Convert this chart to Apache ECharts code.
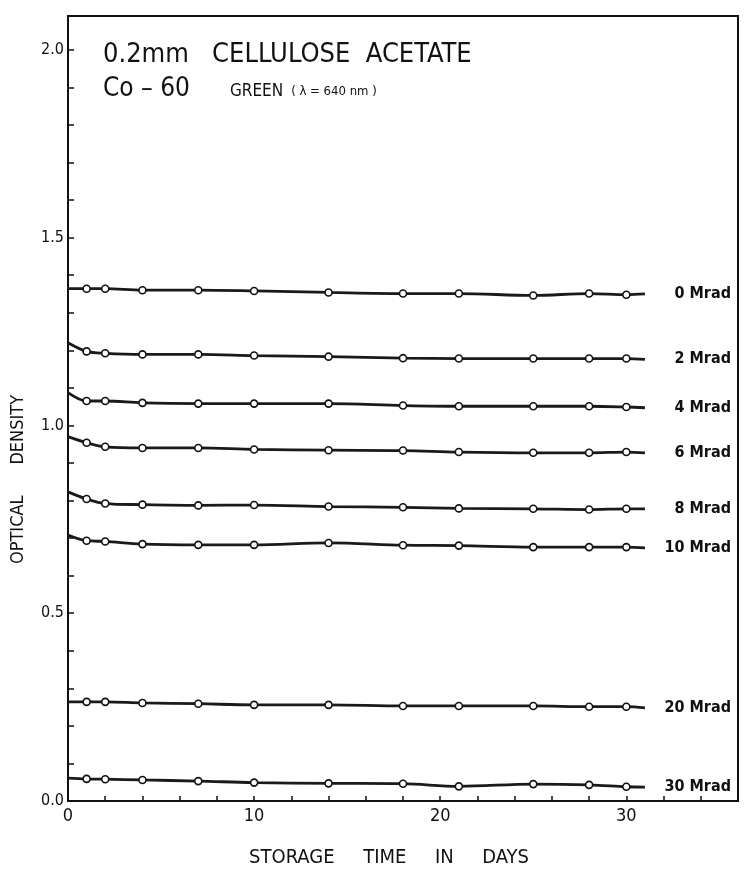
<!DOCTYPE html>
<html>
<head>
<meta charset="utf-8">
<script src="https://cdn.jsdelivr.net/npm/echarts@6/dist/echarts.min.js"></script>
<style>
  html, body { margin: 0; padding: 0; background: #fff; }
  #chart { width: 746px; height: 873px; }
</style>
</head>
<body>
<div id="chart"></div>
<script>
// Storage days: first entry is the start of each curve, last is where the trace ends.
const days = [0, 1, 2, 4, 7, 10, 14, 18, 21, 25, 28, 30, 31];
// Indices of days that carry a measured point (open circle).
const markedFrom = 1, markedTo = 11;

const doseLabels = ['0 Mrad', '2 Mrad', '4 Mrad', '6 Mrad', '8 Mrad', '10 Mrad', '20 Mrad', '30 Mrad'];

// Optical density per dose, one value per entry of `days`.
const mrad0  = [1.364, 1.364, 1.364, 1.360, 1.360, 1.358, 1.354, 1.351, 1.351, 1.346, 1.351, 1.348, 1.350];
const mrad2  = [1.220, 1.197, 1.192, 1.189, 1.189, 1.186, 1.183, 1.179, 1.178, 1.178, 1.178, 1.178, 1.176];
const mrad4  = [1.087, 1.065, 1.065, 1.060, 1.058, 1.058, 1.058, 1.053, 1.051, 1.051, 1.051, 1.049, 1.047];
const mrad6  = [0.970, 0.954, 0.943, 0.940, 0.940, 0.936, 0.934, 0.933, 0.929, 0.927, 0.927, 0.929, 0.927];
const mrad8  = [0.823, 0.804, 0.792, 0.789, 0.787, 0.788, 0.784, 0.782, 0.779, 0.778, 0.776, 0.778, 0.778];
const mrad10 = [0.708, 0.693, 0.691, 0.684, 0.682, 0.682, 0.687, 0.681, 0.680, 0.676, 0.676, 0.676, 0.674];
const mrad20 = [0.264, 0.264, 0.264, 0.261, 0.259, 0.256, 0.256, 0.253, 0.253, 0.253, 0.251, 0.251, 0.248];
const mrad30 = [0.061, 0.059, 0.058, 0.056, 0.053, 0.049, 0.047, 0.046, 0.039, 0.045, 0.043, 0.038, 0.037];

const densityByDose = [mrad0, mrad2, mrad4, mrad6, mrad8, mrad10, mrad20, mrad30];

const xTickLabels = [0, 10, 20, 30];
const yTickLabels = [0.0, 0.5, 1.0, 1.5, 2.0];

const FONT = '"DejaVu Sans Condensed", "Liberation Sans Narrow", "Liberation Sans", sans-serif';
const INK = '#111';

function buildSeries(name, values) {
  return {
    type: 'line',
    name: name,
    smooth: 0.35,
    data: values.map((v, i) => {
      const item = { value: [days[i], v] };
      if (i < markedFrom || i > markedTo) item.symbol = 'none';
      return item;
    }),
    symbol: 'circle',
    symbolSize: 7,
    showAllSymbol: true,
    lineStyle: { color: '#1a1a1a', width: 2.8 },
    itemStyle: { color: '#fff', borderColor: INK, borderWidth: 1.6 },
    emphasis: { disabled: true },
    endLabel: {
      show: true,
      formatter: '{a}',
      align: 'right',
      distance: 86,
      color: INK,
      fontFamily: FONT,
      fontSize: 16,
      fontWeight: 'bold'
    },
    animation: false
  };
}

const chart = echarts.init(document.getElementById('chart'), null, { renderer: 'canvas' });

chart.setOption({
  backgroundColor: '#fff',
  animation: false,
  title: {
    left: 98,
    top: 32,
    text: '{a|0.2mm   CELLULOSE  ACETATE}\n{b|Co – 60}{c|GREEN}{d|( λ = 640 nm )}',
    textStyle: {
      fontWeight: 'normal',
      rich: {
        a: { fontFamily: FONT, fontSize: 27, fontWeight: 'normal', color: INK, lineHeight: 35 },
        b: { fontFamily: FONT, fontSize: 26, fontWeight: 'normal', color: INK, lineHeight: 35 },
        c: { fontFamily: FONT, fontSize: 17, fontWeight: 'normal', color: INK, lineHeight: 35, padding: [4, 0, 0, 40] },
        d: { fontFamily: FONT, fontSize: 13, fontWeight: 'normal', color: INK, lineHeight: 35, padding: [5, 0, 0, 8] }
      }
    }
  },
  grid: {
    left: 68,
    right: 8,
    top: 16,
    bottom: 72,
    show: true,
    borderColor: INK,
    borderWidth: 2,
    containLabel: false
  },
  xAxis: {
    type: 'value',
    min: 0,
    max: 36,
    interval: 2,
    name: 'STORAGE     TIME     IN     DAYS',
    nameLocation: 'middle',
    nameGap: 47,
    nameTextStyle: { fontFamily: FONT, fontSize: 20, color: INK, padding: [0, 28, 0, 0] },
    axisLine: { lineStyle: { color: INK, width: 2 } },
    axisTick: { inside: true, length: 5, lineStyle: { color: INK, width: 1.5 } },
    splitLine: { show: false },
    axisLabel: {
      margin: 6,
      fontFamily: FONT,
      fontSize: 18,
      color: INK,
      formatter: v => (xTickLabels.indexOf(v) >= 0 ? String(v) : '')
    }
  },
  yAxis: {
    type: 'value',
    min: 0,
    max: 2.09,
    interval: 0.1,
    name: 'OPTICAL      DENSITY',
    nameLocation: 'middle',
    nameRotate: 90,
    nameGap: 41,
    nameTextStyle: { fontFamily: FONT, fontSize: 18, color: INK, padding: [0, 142, 0, 0] },
    axisLine: { lineStyle: { color: INK, width: 2 } },
    axisTick: { inside: true, length: 6, lineStyle: { color: INK, width: 1.5 } },
    splitLine: { show: false },
    axisLabel: {
      margin: 4,
      fontFamily: FONT,
      fontSize: 16,
      color: INK,
      formatter: v => {
        const hit = yTickLabels.find(t => Math.abs(t - v) < 1e-6);
        return hit === undefined ? '' : hit.toFixed(1);
      }
    }
  },
  series: doseLabels.map((name, k) => buildSeries(name, densityByDose[k]))
});
</script>
</body>
</html>
